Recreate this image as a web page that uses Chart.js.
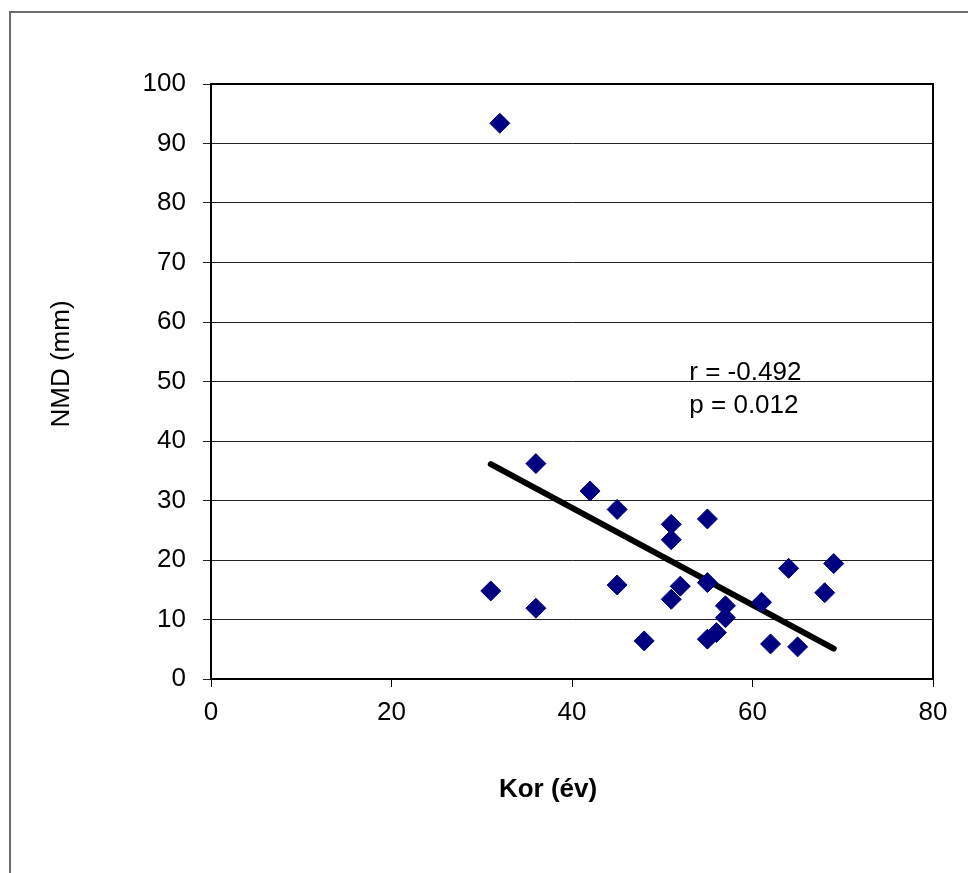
<!DOCTYPE html>
<html lang="hu">
<head>
  <meta charset="UTF-8">
  <title>NMD (mm) – Kor (év)</title>
  <script src="https://cdn.jsdelivr.net/npm/chart.js"></script>
  <style>
    body { margin: 0; background: #fff; }
    #wrap { width: 968px; height: 873px; }
  </style>
</head>
<body>
  <div id="wrap">
    <canvas id="chart" width="968" height="873"></canvas>
  </div>

  <script>
    // életkor (év) és NMD (mm) – leolvasva az ábráról
    const ages = [31, 32, 36, 36, 42, 45, 45, 48, 51, 51, 51, 52, 55, 55, 55, 56, 57, 57, 61, 62, 64, 65, 68, 69];
    const nmd = [14.8, 93.4, 36.2, 11.9, 31.6, 28.5, 15.8, 6.4, 26.0, 23.4, 13.4, 15.6, 26.9, 16.2, 6.7, 7.8, 12.3, 10.3, 12.9, 5.9, 18.6, 5.4, 14.5, 19.4];

    // regressziós egyenes végpontjai
    const trendX = [31, 69];
    const trendY = [36.1, 5.1];

    const xTicks = [0, 20, 40, 60, 80];
    const yTicks = [0, 10, 20, 30, 40, 50, 60, 70, 80, 90, 100];

    const statLines = ['r = -0.492', 'p = 0.012'];
    const statPos = [53, 50.3];

    const FONT = "'Liberation Sans', Arial, sans-serif";

    const decor = {
      id: 'decor',
      beforeDraw(chart) {
        const ctx = chart.ctx;
        ctx.save();
        ctx.strokeStyle = '#6e6e6e';
        ctx.lineWidth = 2;
        ctx.beginPath();
        ctx.moveTo(10, 873);
        ctx.lineTo(10, 12);
        ctx.lineTo(968, 12);
        ctx.stroke();
        ctx.restore();
      },
      afterDraw(chart) {
        const ctx = chart.ctx;
        const ca = chart.chartArea;
        ctx.save();
        ctx.strokeStyle = '#000';
        ctx.lineWidth = 2;
        ctx.strokeRect(ca.left, ca.top, ca.width, ca.height);

        ctx.fillStyle = '#000';
        ctx.font = 'bold 26px ' + FONT;
        ctx.textAlign = 'center';
        ctx.textBaseline = 'middle';
        ctx.fillText('Kor (év)', 548, 790);

        ctx.font = '26px ' + FONT;
        ctx.save();
        ctx.translate(62, 364);
        ctx.rotate(-Math.PI / 2);
        ctx.fillText('NMD (mm)', 0, 0);
        ctx.restore();

        ctx.textAlign = 'left';
        ctx.textBaseline = 'alphabetic';
        const sx = chart.scales.x.getPixelForValue(statPos[0]);
        const sy = chart.scales.y.getPixelForValue(statPos[1]);
        statLines.forEach((t, i) => ctx.fillText(t, sx, sy + i * 33));
        ctx.restore();
      }
    };

    new Chart(document.getElementById('chart'), {
      type: 'scatter',
      data: {
        datasets: [
          {
            data: ages.map((a, i) => ({ x: a, y: nmd[i] })),
            pointStyle: 'rectRot',
            pointRadius: 10,
            backgroundColor: '#000080',
            borderColor: '#000080',
            borderWidth: 1
          },
          {
            data: trendX.map((a, i) => ({ x: a, y: trendY[i] })),
            showLine: true,
            pointRadius: 0,
            borderColor: '#000',
            borderWidth: 6,
            borderCapStyle: 'round'
          }
        ]
      },
      options: {
        responsive: false,
        animation: false,
        layout: { padding: { top: 84, right: 35, left: 0, bottom: 0 } },
        plugins: { legend: { display: false }, tooltip: { enabled: false } },
        scales: {
          x: {
            min: 0, max: 80,
            afterFit: s => { s.height = 194; },
            afterBuildTicks: s => { s.ticks = xTicks.map(v => ({ value: v })); },
            ticks: { color: '#000', font: { family: FONT, size: 26 }, padding: 10 },
            grid: { drawOnChartArea: false, drawTicks: true, tickLength: 8, color: '#000' },
            border: { color: '#000', width: 2 }
          },
          y: {
            min: 0, max: 100,
            afterFit: s => { s.width = 211; },
            afterBuildTicks: s => { s.ticks = yTicks.map(v => ({ value: v })); },
            ticks: { color: '#000', font: { family: FONT, size: 26 }, padding: 17 },
            grid: { color: '#222', lineWidth: 1, tickLength: 8 },
            border: { color: '#000', width: 2 }
          }
        }
      },
      plugins: [decor]
    });
  </script>
</body>
</html>
